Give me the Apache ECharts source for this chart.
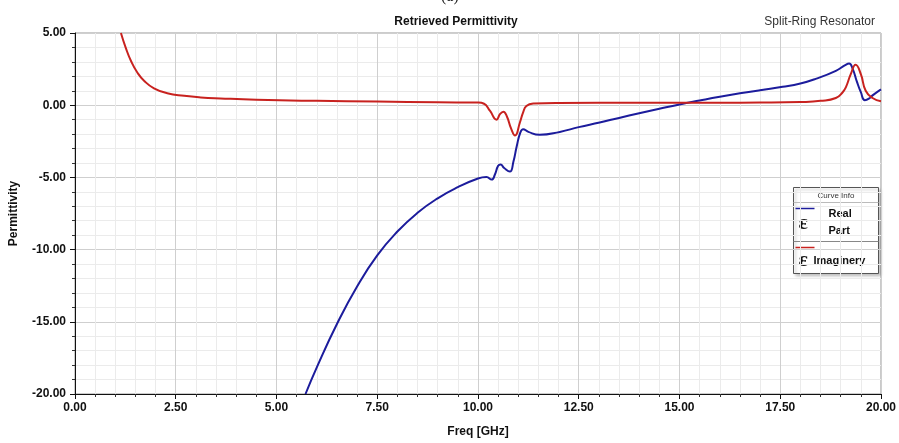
<!DOCTYPE html>
<html>
<head>
<meta charset="utf-8">
<script src="https://cdn.jsdelivr.net/npm/echarts@6/dist/echarts.min.js"></script>
<style>
  html, body { margin: 0; padding: 0; background: #fff; }
  #main { width: 899px; height: 443px; }
</style>
</head>
<body>
<div id="main"></div>
<script>
// Real part of permittivity (blue)
var realFreq = [5.72, 6.0, 6.5, 7.0, 7.5, 8.0, 8.5, 9.0, 9.5, 10.0, 10.21, 10.34, 10.42, 10.5, 10.56,
  10.65, 10.79, 10.88, 10.96, 11.05, 11.12, 11.25, 11.53, 12.03, 12.5, 13.02, 13.5, 14.0, 14.5, 15.0, 15.5,
  16.0, 16.5, 17.0, 17.56, 18.0, 18.38, 18.88, 19.1, 19.21, 19.3, 19.4, 19.5, 19.6, 19.7, 19.8, 20.0];
var realVals = [-20.0, -18.15, -15.15, -12.55, -10.4, -8.75, -7.45, -6.45, -5.68, -5.08, -4.98, -5.15, -4.8, -4.2, -4.1,
  -4.35, -4.6, -3.9, -2.86, -1.9, -1.66, -1.85, -2.05, -1.85, -1.52, -1.2, -0.88, -0.56, -0.25, 0.05, 0.32,
  0.58, 0.82, 1.04, 1.27, 1.5, 1.82, 2.38, 2.75, 2.88, 2.5, 1.65, 0.9, 0.35, 0.45, 0.7, 1.1];

// Imaginary part of permittivity (red)
var imagFreq = [1.14, 1.26, 1.39, 1.55, 1.72, 1.96, 2.29, 2.71, 3.12, 3.61, 4.5, 6.0, 7.5, 9.0, 10.0, 10.15, 10.3,
  10.46, 10.55, 10.63, 10.72, 10.82, 10.92, 11.04, 11.12, 11.2, 11.37, 12.0, 14.0, 16.0, 17.0, 18.0, 18.5,
  18.88, 19.05, 19.13, 19.25, 19.37, 19.5, 19.62, 19.79, 20.0];
var imagVals = [5.0, 3.97, 3.06, 2.25, 1.68, 1.17, 0.83, 0.65, 0.54, 0.47, 0.38, 0.3, 0.25, 0.2, 0.18, 0.1, -0.4,
  -1.0, -0.6, -0.45, -0.8, -1.6, -2.1, -1.2, -0.5, -0.06, 0.12, 0.16, 0.17, 0.17, 0.18, 0.22, 0.3,
  0.5, 0.9, 1.25, 2.15, 2.8, 2.15, 1.0, 0.5, 0.27];

var blue = '#1c1c9c';
var red = '#c8221f';

function pairs(xs, ys) {
  return xs.map(function (x, i) { return [x, ys[i]]; });
}

var chart = echarts.init(document.getElementById('main'));

var option = {
  animation: false,
  textStyle: { fontFamily: 'Liberation Sans, Arial, sans-serif' },
  title: [
    {
      text: 'Retrieved Permittivity',
      left: 451, top: 11, textAlign: 'center',
      textStyle: { fontSize: 12, fontWeight: 'bold', color: '#111' }
    },
    {
      text: 'Split-Ring Resonator',
      right: 19, top: 11,
      textStyle: { fontSize: 12, fontWeight: 'normal', color: '#333' }
    }
  ],
  grid: {
    left: 74, right: 17, top: 33, bottom: 46,
    show: true, borderColor: '#999', borderWidth: 1
  },
  xAxis: {
    type: 'value', min: 0, max: 20, interval: 2.5,
    name: 'Freq [GHz]', nameLocation: 'middle', nameGap: 32,
    nameTextStyle: { fontSize: 12, fontWeight: 'bold', color: '#111' },
    axisLine: { onZero: false, lineStyle: { color: '#111', width: 1 } },
    axisTick: { length: 5, lineStyle: { color: '#111' } },
    minorTick: { show: true, splitNumber: 5, length: 3, lineStyle: { color: '#333' } },
    axisLabel: { margin: 8, fontSize: 12, fontWeight: 'bold', color: '#111',
      formatter: function (v) { return v.toFixed(2); } },
    splitLine: { lineStyle: { color: '#cfcfcf' } },
    minorSplitLine: { show: true, lineStyle: { color: '#ebebeb' } }
  },
  yAxis: {
    type: 'value', min: -20, max: 5, interval: 5,
    name: 'Permittivity', nameLocation: 'middle', nameGap: 55,
    nameTextStyle: { fontSize: 12, fontWeight: 'bold', color: '#111' },
    axisLine: { show: true, onZero: false, lineStyle: { color: '#111', width: 1 } },
    axisTick: { show: true, length: 5, lineStyle: { color: '#111' } },
    minorTick: { show: true, splitNumber: 5, length: 3, lineStyle: { color: '#333' } },
    axisLabel: { margin: 9, fontSize: 12, fontWeight: 'bold', color: '#111',
      formatter: function (v) { return v.toFixed(2); } },
    splitLine: { lineStyle: { color: '#cfcfcf' } },
    minorSplitLine: { show: true, lineStyle: { color: '#ebebeb' } }
  },
  series: [
    {
      name: 'Real Part', type: 'line', data: pairs(realFreq, realVals),
      smooth: 0.5, showSymbol: false, clip: true,
      lineStyle: { color: blue, width: 2 }, itemStyle: { color: blue }
    },
    {
      name: 'Imaginery', type: 'line', data: pairs(imagFreq, imagVals),
      smooth: 0.5, showSymbol: false, clip: true,
      lineStyle: { color: red, width: 2 }, itemStyle: { color: red }
    }
  ],
  graphic: [
    { type: 'text', left: 441, top: -11,
      style: { text: '(a)', fontSize: 16, fill: '#222', fontFamily: 'Liberation Serif, serif' } },
    {
      type: 'group', left: 791, top: 187, z: 100,
      children: [
        { type: 'rect', shape: { x: 0, y: 0, width: 85, height: 86 },
          style: { fill: '#fff', stroke: '#555', lineWidth: 1,
            shadowBlur: 3, shadowOffsetX: 2, shadowOffsetY: 2, shadowColor: 'rgba(0,0,0,0.25)' } },
        { type: 'text', x: 42.5, y: 8,
          style: { text: 'Curve Info', fontSize: 8, fill: '#333', align: 'center', verticalAlign: 'middle' } },
        { type: 'line', shape: { x1: 0, y1: 15, x2: 85, y2: 15 },
          style: { stroke: '#bbb', lineWidth: 1 } },
        { type: 'line', shape: { x1: 2, y1: 21, x2: 21, y2: 21 },
          style: { stroke: blue, lineWidth: 1.5 } },
        { type: 'text', x: 5, y: 36,
          style: { text: 'ε', fontSize: 22, fontWeight: 'bold', fill: '#111', verticalAlign: 'middle',
            fontFamily: 'Liberation Serif, serif' } },
        { type: 'text', x: 35, y: 26,
          style: { text: 'Real', fontSize: 11, fontWeight: 'bold', fill: '#111', verticalAlign: 'middle' } },
        { type: 'text', x: 35, y: 43,
          style: { text: 'Part', fontSize: 11, fontWeight: 'bold', fill: '#111', verticalAlign: 'middle' } },
        { type: 'line', shape: { x1: 0, y1: 54, x2: 85, y2: 54 },
          style: { stroke: '#888', lineWidth: 1 } },
        { type: 'line', shape: { x1: 2, y1: 60, x2: 21, y2: 60 },
          style: { stroke: red, lineWidth: 1.5 } },
        { type: 'text', x: 5, y: 73,
          style: { text: 'ε', fontSize: 22, fontWeight: 'bold', fill: '#111', verticalAlign: 'middle',
            fontFamily: 'Liberation Serif, serif' } },
        { type: 'text', x: 20, y: 73,
          style: { text: 'Imaginery', fontSize: 11, fontWeight: 'bold', fill: '#111', verticalAlign: 'middle' } }
      ]
    }
  ]
};

chart.setOption(option);
</script>
</body>
</html>
